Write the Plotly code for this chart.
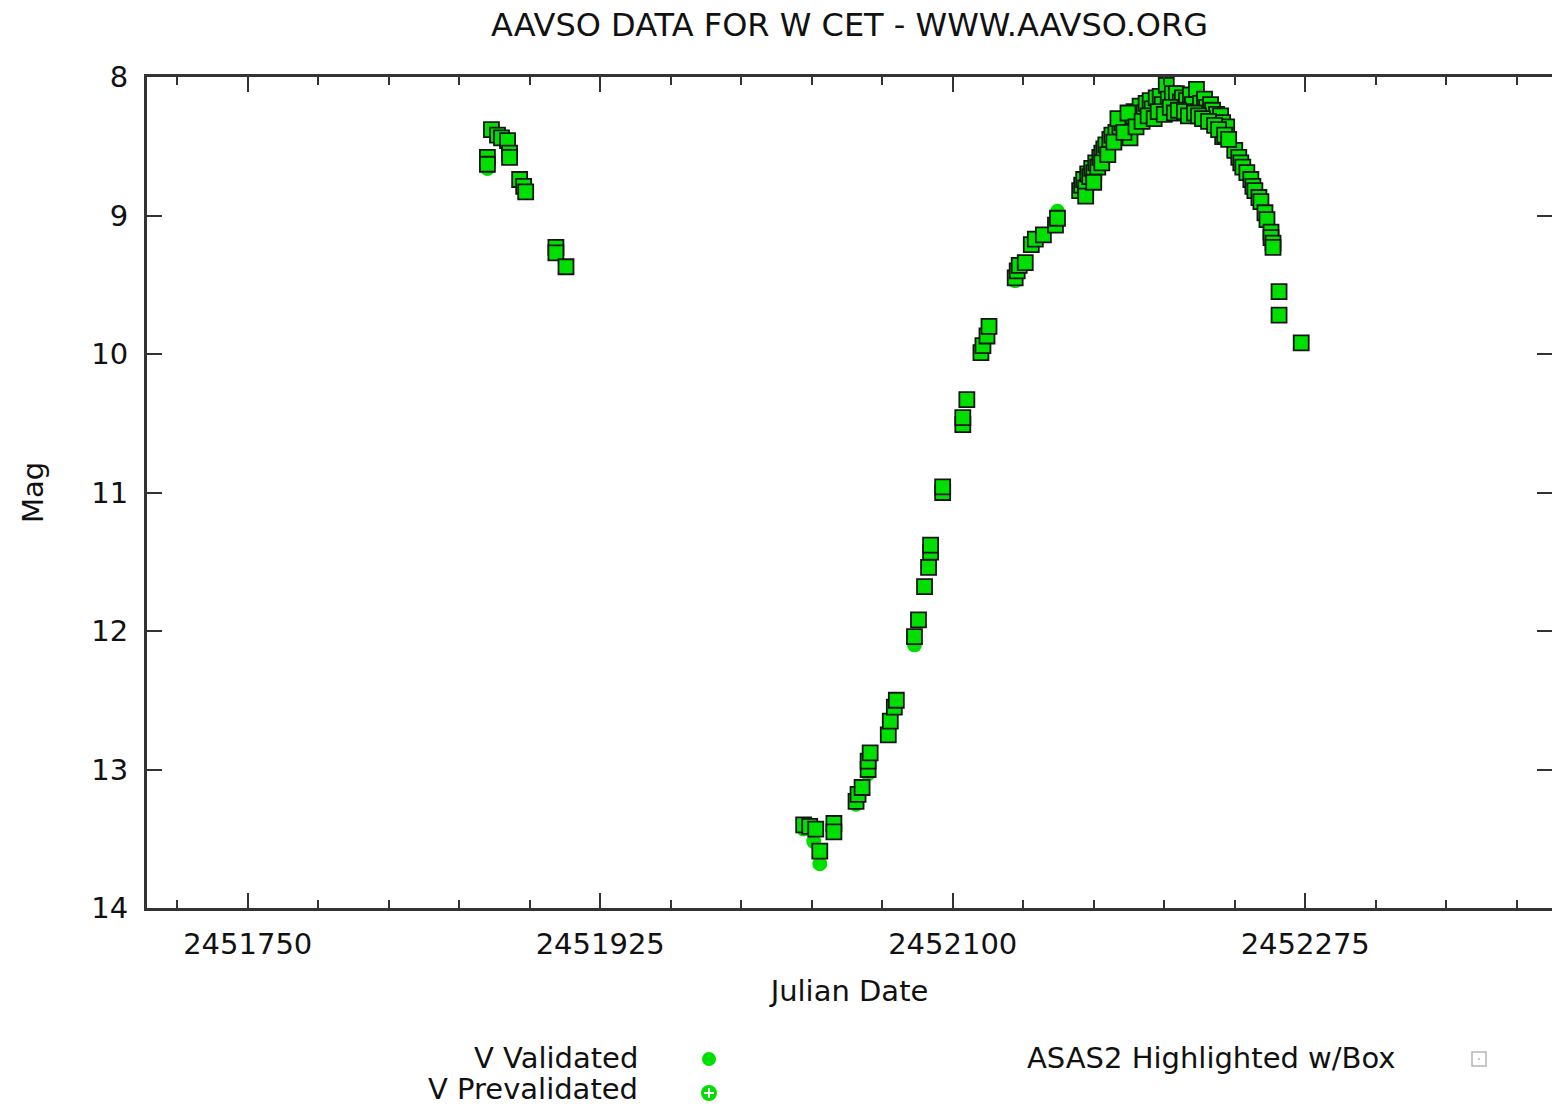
import plotly.graph_objects as go

# ---- observations (Julian Date, V magnitude) ----
# ASAS2 observations: drawn as V points with a box around them
asas_jd = [
    2451869, 2451869, 2451871, 2451874, 2451876, 2451879, 2451880, 2451880,
    2451885, 2451887, 2451888, 2451903, 2451903, 2451908,
    2452026, 2452029, 2452032, 2452034, 2452041, 2452041,
    2452052, 2452053, 2452055, 2452058, 2452058, 2452059, 2452068, 2452069,
    2452071, 2452072, 2452081, 2452083, 2452086, 2452088, 2452089, 2452089,
    2452095, 2452095, 2452105, 2452105, 2452107, 2452114, 2452115, 2452117,
    2452118, 2452131, 2452132, 2452133, 2452136, 2452139, 2452141, 2452145,
    2452151, 2452152,
    2452163, 2452164, 2452165, 2452166, 2452167, 2452168, 2452169, 2452170,
    2452171, 2452172, 2452173, 2452174, 2452175, 2452176, 2452178, 2452179,
    2452181, 2452183, 2452184, 2452186, 2452187, 2452188, 2452189, 2452190,
    2452192, 2452193, 2452195, 2452196, 2452198, 2452199, 2452201, 2452203,
    2452204, 2452206, 2452207, 2452209, 2452211, 2452213, 2452214, 2452216,
    2452218, 2452219, 2452221, 2452223, 2452225, 2452226, 2452228, 2452229,
    2452231, 2452233, 2452234, 2452234, 2452236, 2452240, 2452242, 2452243,
    2452244, 2452246, 2452248, 2452249, 2452250, 2452252, 2452253, 2452255,
    2452256, 2452258, 2452258, 2452259, 2452259, 2452262, 2452262, 2452273,
    2452166, 2452170, 2452174, 2452177, 2452180, 2452182, 2452185, 2452187,
    2452191, 2452194, 2452197, 2452200, 2452202, 2452205, 2452208, 2452210,
    2452212, 2452215, 2452217, 2452220, 2452222, 2452224, 2452227, 2452230,
    2452232, 2452235, 2452237,
]
asas_mag = [
    8.58, 8.63, 8.38, 8.42, 8.44, 8.46, 8.55, 8.58,
    8.74, 8.79, 8.83, 9.23, 9.27, 9.37,
    13.40, 13.41, 13.43, 13.59, 13.39, 13.45,
    13.23, 13.18, 13.13, 13.00, 12.94, 12.88, 12.75, 12.65,
    12.55, 12.50, 12.04, 11.92, 11.68, 11.54, 11.43, 11.38,
    11.00, 10.96, 10.51, 10.46, 10.33, 9.99, 9.94, 9.87,
    9.80, 9.45, 9.40, 9.36, 9.34, 9.21, 9.17, 9.14,
    9.07, 9.02,
    8.82, 8.78, 8.74, 8.80, 8.70, 8.72, 8.66, 8.69,
    8.62, 8.65, 8.58, 8.55, 8.52, 8.49, 8.45, 8.42,
    8.40, 8.36, 8.33, 8.31, 8.35, 8.44, 8.28, 8.25,
    8.30, 8.21, 8.26, 8.19, 8.17, 8.23, 8.15, 8.14,
    8.20, 8.06, 8.16, 8.12, 8.12, 8.18, 8.15, 8.17,
    8.13, 8.20, 8.09, 8.19, 8.16, 8.22, 8.20, 8.24,
    8.27, 8.28, 8.33, 8.43, 8.36, 8.53, 8.58, 8.62,
    8.65, 8.69, 8.74, 8.79, 8.82, 8.87, 8.90, 8.98,
    9.03, 9.12, 9.16, 9.20, 9.23, 9.55, 9.72, 9.92,
    8.86, 8.76, 8.62, 8.56, 8.47, 8.30, 8.40, 8.26,
    8.36, 8.32, 8.28, 8.30, 8.25, 8.27, 8.22, 8.26,
    8.24, 8.25, 8.28, 8.26, 8.28, 8.30, 8.32, 8.35,
    8.38, 8.42, 8.45,
]

# other validated V observations (no box)
v_jd = [2451869, 2452026, 2452031, 2452034, 2452052, 2452058, 2452081,
        2452131, 2452152, 2452166, 2452230]
v_mag = [8.66, 13.43, 13.52, 13.68, 13.25, 13.03, 12.10,
         9.47, 8.97, 8.84, 8.25]

# axis settings
x_range = [2451700, 2452397.5]
x_tick0 = 2451750
x_major = 175
x_minor = 35
mag_ticks = [8, 9, 10, 11, 12, 13, 14]

GREEN = "#00e000"
AXIS = "#333333"
FONT = "DejaVu Sans"

fig = go.Figure()

# every V point is a green dot
fig.add_trace(go.Scatter(
    x=v_jd + asas_jd, y=v_mag + asas_mag, mode="markers",
    marker=dict(symbol="circle", size=15, color=GREEN, line=dict(width=0)),
    showlegend=False, hoverinfo="x+y",
))
# ASAS2 points get a dark box on top
fig.add_trace(go.Scatter(
    x=asas_jd, y=asas_mag, mode="markers", yaxis="y2",
    marker=dict(symbol="square", size=15, color=GREEN,
                line=dict(width=1.8, color="#151515")),
    showlegend=False, hoverinfo="x+y",
))

W, H = 1552, 1108
L, R, T, B = 147, 0, 77, 200
pw = W - L - R
ph = H - T - B


def px(xp):
    return (xp - L) / pw


def py(yp):
    return (H - B - yp) / ph


axis_font = dict(family=FONT, size=29, color="#111111")

fig.update_layout(
    width=W, height=H,
    margin=dict(l=L, r=R, t=T, b=B, pad=0),
    paper_bgcolor="white", plot_bgcolor="white",
    font=dict(family=FONT, size=29, color="#111111"),
    title=dict(text="AAVSO DATA FOR W CET - WWW.AAVSO.ORG",
               x=0.5, xref="paper", xanchor="center",
               y=1 - 25 / H, yref="container", yanchor="middle",
               font=dict(family=FONT, size=32, color="#111111")),
    xaxis=dict(
        range=x_range, showgrid=False, zeroline=False,
        showline=True, linewidth=3, linecolor=AXIS, mirror="ticks",
        ticks="inside", ticklen=15, tickwidth=2, tickcolor=AXIS,
        tick0=x_tick0, dtick=x_major, tickformat="d",
        tickfont=axis_font, ticklabelstandoff=8,
        minor=dict(ticks="inside", ticklen=8, tickwidth=2,
                   tickcolor=AXIS, tick0=x_tick0, dtick=x_minor,
                   showgrid=False),
        title=dict(text="Julian Date", font=axis_font, standoff=21),
    ),
    yaxis=dict(
        range=[14, 8], autorange=False, showgrid=False, zeroline=False,
        showline=True, linewidth=3, linecolor=AXIS,
        ticks="inside", ticklen=15, tickwidth=2, tickcolor=AXIS,
        tickvals=mag_ticks, tickfont=axis_font, ticklabelstandoff=10,
        title=dict(text="Mag", font=axis_font, standoff=40),
    ),
    yaxis2=dict(
        range=[14, 8], autorange=False, overlaying="y", side="right",
        showgrid=False, zeroline=False, showline=False,
        ticks="inside", ticklen=15, tickwidth=2, tickcolor=AXIS,
        tickvals=mag_ticks, showticklabels=False,
    ),
    showlegend=False,
)

# ---- key below the plot ----
legend_text = [
    ("V Validated", 640, 1058, "right"),
    ("V Prevalidated", 640, 1089, "right"),
    ("ASAS2 Highlighted w/Box", 1025, 1058, "left"),
]
for txt, xp, yp, anchor in legend_text:
    fig.add_annotation(text=txt, x=px(xp), y=py(yp), xref="paper",
                       yref="paper", xanchor=anchor, yanchor="middle",
                       showarrow=False, font=axis_font)

shapes = []
# V Validated: plain green dot
shapes.append(dict(type="circle", xref="paper", yref="paper",
                   xsizemode="pixel", ysizemode="pixel",
                   xanchor=px(709), yanchor=py(1059),
                   x0=-7, x1=7, y0=-7, y1=7,
                   fillcolor=GREEN, line=dict(width=0)))
# V Prevalidated: green dot with a white cross
shapes.append(dict(type="circle", xref="paper", yref="paper",
                   xsizemode="pixel", ysizemode="pixel",
                   xanchor=px(709), yanchor=py(1093),
                   x0=-8, x1=8, y0=-8, y1=8,
                   fillcolor=GREEN, line=dict(width=0)))
shapes.append(dict(type="line", xref="paper", yref="paper",
                   xsizemode="pixel", ysizemode="pixel",
                   xanchor=px(709), yanchor=py(1093),
                   x0=-5, x1=5, y0=0, y1=0,
                   line=dict(color="white", width=2)))
shapes.append(dict(type="line", xref="paper", yref="paper",
                   xsizemode="pixel", ysizemode="pixel",
                   xanchor=px(709), yanchor=py(1093),
                   x0=0, x1=0, y0=-5, y1=5,
                   line=dict(color="white", width=2)))
# ASAS2 box
shapes.append(dict(type="rect", xref="paper", yref="paper",
                   xsizemode="pixel", ysizemode="pixel",
                   xanchor=px(1479), yanchor=py(1059),
                   x0=-7, x1=7, y0=-7, y1=7,
                   fillcolor="rgba(0,0,0,0)",
                   line=dict(color="#b5b5b5", width=1.5)))
shapes.append(dict(type="rect", xref="paper", yref="paper",
                   xsizemode="pixel", ysizemode="pixel",
                   xanchor=px(1479), yanchor=py(1059),
                   x0=-1, x1=1, y0=-1, y1=1,
                   fillcolor="#c8c8c8", line=dict(width=0)))
fig.update_layout(shapes=shapes)

fig.write_html("out.html")
